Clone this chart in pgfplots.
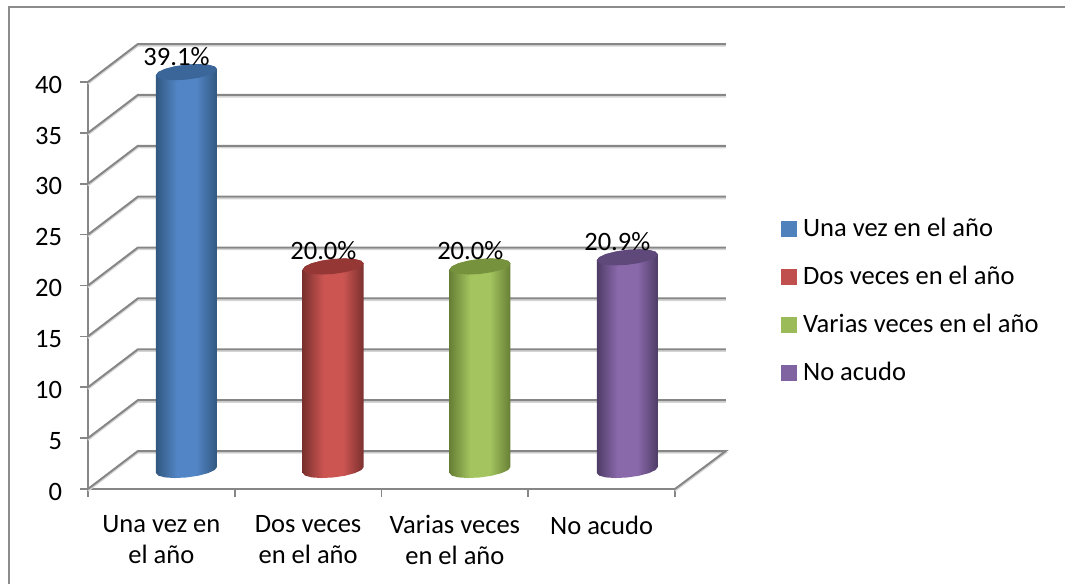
\documentclass[border=0pt]{standalone}
\usepackage{fontspec}
\setmainfont{Carlito}
\usepackage{pgfplots}
\usepackage{pgfplotstable}
\pgfplotsset{compat=1.18}
\definecolor{axgray}{HTML}{868686}
\definecolor{shgray}{HTML}{D4D4D4}
\definecolor{frm}{HTML}{8C8C8C}
\definecolor{cb}{HTML}{4F81BD}
\definecolor{cr}{HTML}{C0504D}
\definecolor{cg}{HTML}{9BBB59}
\definecolor{cp}{HTML}{8064A2}
\definecolor{capb}{HTML}{3A6699}
\definecolor{capr}{HTML}{953735}
\definecolor{capg}{HTML}{76923C}
\definecolor{capp}{HTML}{5F497A}
\definecolor{bE}{HTML}{315880}\definecolor{bM}{HTML}{5285C5}
\definecolor{rE}{HTML}{7A302E}\definecolor{rM}{HTML}{CC5552}
\definecolor{gE}{HTML}{677F36}\definecolor{gM}{HTML}{A3C45E}
\definecolor{pE}{HTML}{4E3C66}\definecolor{pM}{HTML}{8A69AB}
\pgfdeclarehorizontalshading{cylb}{100bp}{color(0bp)=(bE);color(25bp)=(bE);color(42bp)=(bM);color(58bp)=(bM);color(75bp)=(bE);color(100bp)=(bE)}
\pgfdeclarehorizontalshading{cylr}{100bp}{color(0bp)=(rE);color(25bp)=(rE);color(42bp)=(rM);color(58bp)=(rM);color(75bp)=(rE);color(100bp)=(rE)}
\pgfdeclarehorizontalshading{cylg}{100bp}{color(0bp)=(gE);color(25bp)=(gE);color(42bp)=(gM);color(58bp)=(gM);color(75bp)=(gE);color(100bp)=(gE)}
\pgfdeclarehorizontalshading{cylp}{100bp}{color(0bp)=(pE);color(25bp)=(pE);color(42bp)=(pM);color(58bp)=(pM);color(75bp)=(pE);color(100bp)=(pE)}
% Wall and floor lines (front edge, depth edge, back wall)
\pgfplotstableread{
x y
0 0
0.34 3.73
4.346 3.73
4 0
nan nan
0 5
0.34 8.73
4.346 8.73
nan nan
0 10
0.34 13.73
4.346 13.73
nan nan
0 15
0.34 18.73
4.346 18.73
nan nan
0 20
0.34 23.73
4.346 23.73
nan nan
0 25
0.34 28.73
4.346 28.73
nan nan
0 30
0.34 33.73
4.346 33.73
nan nan
0 35
0.34 38.73
4.346 38.73
nan nan
0 40
0.34 43.73
4.346 43.73
}\walls
% Cylinder outline: c = cos, s = sin, h = 0 at the base, 1 at the top
\pgfplotstableread{
c s h
-1 0 0
-0.924 -0.383 0
-0.707 -0.707 0
-0.383 -0.924 0
0 -1 0
0.383 -0.924 0
0.707 -0.707 0
0.924 -0.383 0
1 0 0
1 0 1
0.924 0.383 1
0.707 0.707 1
0.383 0.924 1
0 1 1
-0.383 0.924 1
-0.707 0.707 1
-0.924 0.383 1
-1 0 1
}\body
\pgfplotstableread{
c s
-1 0
-0.924 -0.383
-0.707 -0.707
-0.383 -0.924
0 -1
0.383 -0.924
0.707 -0.707
0.924 -0.383
1 0
0.924 0.383
0.707 0.707
0.383 0.924
0 1
-0.383 0.924
-0.707 0.707
-0.924 0.383
}\cap
\pgfplotstableread{
x v l
0.603 39.1 39.1\%
1.604 20.0 20.0\%
2.605 20.0 20.0\%
3.607 20.9 20.9\%
}\labelsT
\newcommand\cyl[4]{%
  \addplot[forget plot,draw=none,shade,shading=#3] table[x expr={#1+0.2078*\thisrow{c}},y expr={1.87+#2*\thisrow{h}+0.295*\thisrow{c}+0.737*\thisrow{s}}] {\body} -- cycle;
  \addplot[forget plot,draw=none,fill=#4] table[x expr={#1+0.2078*\thisrow{c}},y expr={1.87+#2+0.295*\thisrow{c}+0.737*\thisrow{s}}] {\cap} -- cycle;
}
\newcommand\fs{\fontsize{19.9}{23}\selectfont}
\begin{document}
\begin{tikzpicture}
\path[use as bounding box] (-66pt,-71.25pt) rectangle (732.75pt,366.75pt);
\draw[frm,line width=1.1pt] (-59.25pt,-71.25pt) -- (-59.25pt,361.5pt) -- (732.75pt,361.5pt);
\begin{axis}[
  at={(0pt,0pt)},anchor=origin,
  anchor=south west,
  scale only axis,width=440.25pt,height=305.25pt,
  xmin=0,xmax=4,ymin=0,ymax=40,clip=false,
  axis lines=left,
  axis line style={-,axgray,line width=1.5pt},
  ytick={0,5,...,40},
  xtick={0.5,1.5,2.5,3.5},
  xticklabels={{Una vez en\\el año},{Dos veces\\en el año},{Varias veces\\en el año},{No acudo}},
  minor xtick={0,1,2,3,4},
  tick align=outside,
  major tick length=6pt,minor tick length=6pt,
  major x tick style={draw=none},
  y tick style={axgray,line width=1.2pt},
  minor x tick style={axgray,line width=1.2pt},
  xticklabel style={align=center,font=\fs,text depth=0pt,yshift=-10.5pt},
  yticklabel style={font=\fs,xshift=-10pt,yshift=-2pt},
  /pgf/number format/assume math mode=true,
  unbounded coords=jump,
  legend cell align=left,
  legend style={at={(1.18,0.463)},anchor=west,draw=none,fill=none,font=\fs,row sep=16.7pt,inner sep=0pt,
    /tikz/every odd column/.append style={column sep=3pt}},
]
\addplot[forget plot,shgray,line width=1.2pt,yshift=-1.4pt] table[x=x,y=y] {\walls};
\addplot[forget plot,axgray,line width=1.5pt] table[x=x,y=y] {\walls};
\cyl{0.671}{39.1}{cylb}{capb}
\cyl{1.671}{20.0}{cylr}{capr}
\cyl{2.671}{20.0}{cylg}{capg}
\cyl{3.675}{20.9}{cylp}{capp}
\addplot[forget plot,draw=none,mark=none,point meta=explicit symbolic,
  nodes near coords,
  every node near coord/.append style={anchor=center,font=\fs,text=black,inner sep=0pt}]
  table[x=x,y expr={\thisrow{v}+3.4},meta=l] {\labelsT};
\addlegendimage{legend image code/.code={\fill[cb] (0pt,-5.6pt) rectangle (11.25pt,5.6pt);}}
\addlegendentry{Una vez en el año}
\addlegendimage{legend image code/.code={\fill[cr] (0pt,-5.6pt) rectangle (11.25pt,5.6pt);}}
\addlegendentry{Dos veces en el año}
\addlegendimage{legend image code/.code={\fill[cg] (0pt,-5.6pt) rectangle (11.25pt,5.6pt);}}
\addlegendentry{Varias veces en el año}
\addlegendimage{legend image code/.code={\fill[cp] (0pt,-5.6pt) rectangle (11.25pt,5.6pt);}}
\addlegendentry{No acudo}
\end{axis}
\end{tikzpicture}
\end{document}
